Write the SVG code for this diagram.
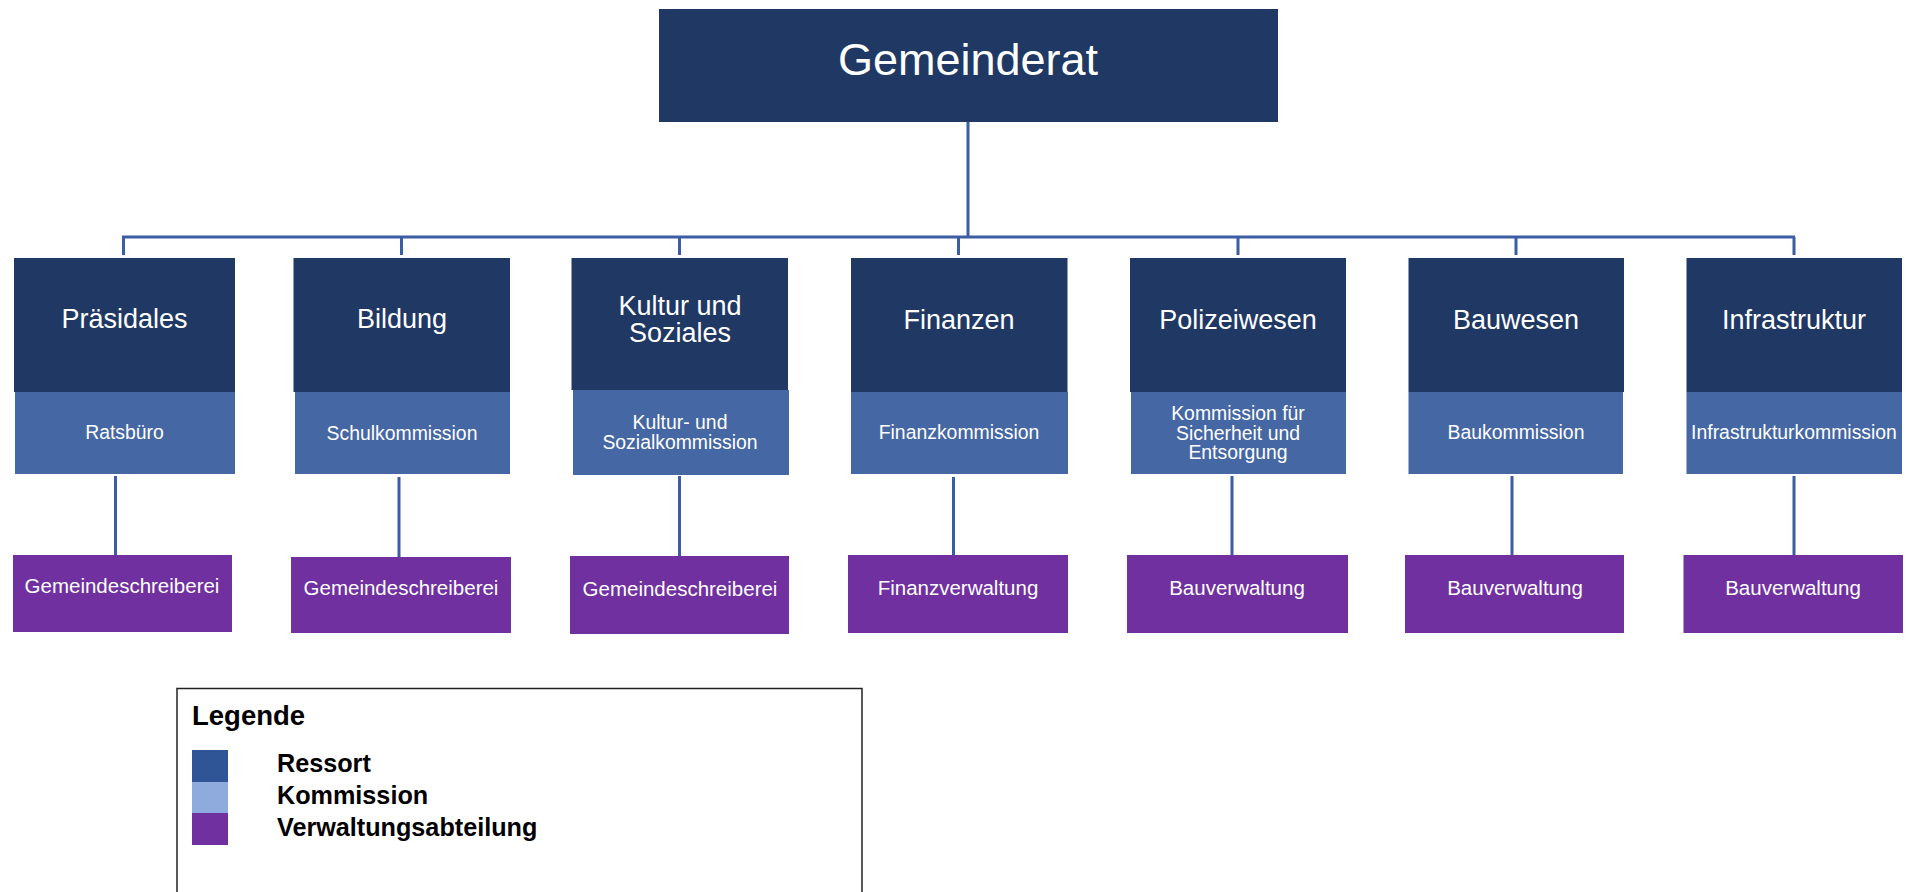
<svg xmlns="http://www.w3.org/2000/svg" width="1906" height="892" viewBox="0 0 1906 892">
<style>
.ress{fill:#203864;}
.komm{fill:#4567A3;}
.verw{fill:#7030A0;}
.t{font-family:"Liberation Sans",Arial,sans-serif;fill:#ffffff;text-anchor:middle;}
.tr{font-size:27px;}
.tk{font-size:19.4px;}
.tv{font-size:20.5px;}
.ln{stroke:#3A5DA3;stroke-width:3;fill:none;}
.lg{font-family:"Liberation Sans",Arial,sans-serif;font-weight:bold;fill:#000000;}
</style>
<rect width="1906" height="892" fill="#ffffff"/>
<g id="connectors">
<path class="ln" d="M968,122 V237"/>
<path class="ln" d="M122,237 H1795"/>
<path class="ln" d="M123.5,237 V255 M401.5,237 V255 M679.5,237 V255 M958.5,237 V255 M1238,237 V255 M1516,237 V255 M1794,237 V255"/>
<path class="ln" d="M115.5,476 V555 M399,477 V557 M679.5,476 V556 M953.5,477 V555 M1232,476 V555 M1512,476 V555 M1794,476 V555"/>
</g>
<g id="gemeinderat">
<rect class="ress" x="659" y="9" width="619" height="113"/>
<text class="t" x="968" y="75" font-size="45">Gemeinderat</text>
</g>
<g id="praesidales">
<rect class="ress" x="14" y="258" width="221" height="134"/>
<text class="t tr" x="124.5" y="328">Präsidales</text>
</g>
<g id="ratsbuero">
<rect class="komm" x="15" y="392" width="220" height="82"/>
<text class="t tk" x="124.5" y="439">Ratsbüro</text>
</g>
<g id="gemeindeschreiberei1">
<rect class="verw" x="13" y="555" width="219" height="77"/>
<text class="t tv" x="122" y="593">Gemeindeschreiberei</text>
</g>
<g id="bildung">
<rect class="ress" x="293.5" y="258" width="216.5" height="134"/>
<text class="t tr" x="402" y="328">Bildung</text>
</g>
<g id="schulkommission">
<rect class="komm" x="295" y="392" width="215" height="82"/>
<text class="t tk" x="402" y="440">Schulkommission</text>
</g>
<g id="gemeindeschreiberei2">
<rect class="verw" x="291" y="557" width="220" height="76"/>
<text class="t tv" x="401" y="595">Gemeindeschreiberei</text>
</g>
<g id="kultur">
<rect class="ress" x="571.5" y="258" width="216.5" height="132"/>
<text class="t tr" x="680" y="315">Kultur und</text>
<text class="t tr" x="680" y="342">Soziales</text>
</g>
<g id="sozialkommission">
<rect class="komm" x="573" y="390" width="216" height="85"/>
<text class="t tk" x="680" y="429">Kultur- und</text>
<text class="t tk" x="680" y="449">Sozialkommission</text>
</g>
<g id="gemeindeschreiberei3">
<rect class="verw" x="570" y="556" width="219" height="78"/>
<text class="t tv" x="680" y="596">Gemeindeschreiberei</text>
</g>
<g id="finanzen">
<rect class="ress" x="851" y="258" width="216.5" height="134"/>
<text class="t tr" x="959" y="329">Finanzen</text>
</g>
<g id="finanzkommission">
<rect class="komm" x="851" y="392" width="217" height="82"/>
<text class="t tk" x="959" y="439">Finanzkommission</text>
</g>
<g id="finanzverwaltung">
<rect class="verw" x="848" y="555" width="220" height="78"/>
<text class="t tv" x="958" y="595">Finanzverwaltung</text>
</g>
<g id="polizeiwesen">
<rect class="ress" x="1130" y="258" width="216" height="134"/>
<text class="t tr" x="1238" y="329">Polizeiwesen</text>
</g>
<g id="kommission-sicherheit">
<rect class="komm" x="1131" y="392" width="215" height="82"/>
<text class="t tk" x="1238" y="420">Kommission für</text>
<text class="t tk" x="1238" y="440">Sicherheit und</text>
<text class="t tk" x="1238" y="459">Entsorgung</text>
</g>
<g id="bauverwaltung1">
<rect class="verw" x="1127" y="555" width="221" height="78"/>
<text class="t tv" x="1237" y="595">Bauverwaltung</text>
</g>
<g id="bauwesen">
<rect class="ress" x="1408.5" y="258" width="215.5" height="134"/>
<text class="t tr" x="1516" y="329">Bauwesen</text>
</g>
<g id="baukommission">
<rect class="komm" x="1408.5" y="392" width="214.5" height="82"/>
<text class="t tk" x="1516" y="439">Baukommission</text>
</g>
<g id="bauverwaltung2">
<rect class="verw" x="1405" y="555" width="219" height="78"/>
<text class="t tv" x="1515" y="595">Bauverwaltung</text>
</g>
<g id="infrastruktur">
<rect class="ress" x="1686.5" y="258" width="215.5" height="134"/>
<text class="t tr" x="1794" y="329">Infrastruktur</text>
</g>
<g id="infrastrukturkommission">
<rect class="komm" x="1686.5" y="392" width="215.5" height="82"/>
<text class="t tk" x="1794" y="439">Infrastrukturkommission</text>
</g>
<g id="bauverwaltung3">
<rect class="verw" x="1683.5" y="555" width="219.5" height="78"/>
<text class="t tv" x="1793" y="595">Bauverwaltung</text>
</g>
<g id="legende">
<rect x="177" y="688.5" width="685" height="220" fill="#ffffff" stroke="#222222" stroke-width="1.5"/>
<text class="lg" x="192" y="725" font-size="27.5">Legende</text>
<rect x="192" y="750" width="36" height="32" fill="#2F5597"/>
<rect x="192" y="782" width="36" height="31" fill="#8FAADC"/>
<rect x="192" y="813" width="36" height="32" fill="#7030A0"/>
<text class="lg" x="277" y="772" font-size="25.2">Ressort</text>
<text class="lg" x="277" y="804" font-size="25.2">Kommission</text>
<text class="lg" x="277" y="836" font-size="25.2">Verwaltungsabteilung</text>
</g>
</svg>
